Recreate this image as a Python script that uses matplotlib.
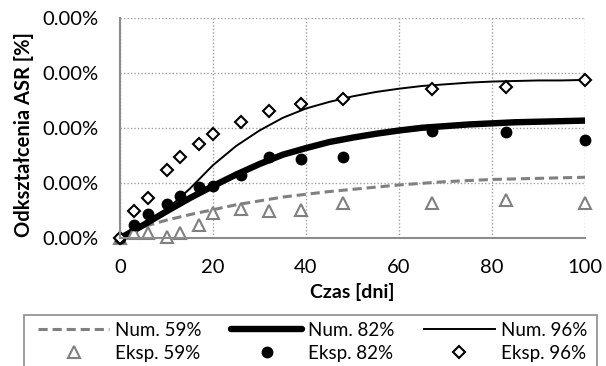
import numpy as np
import matplotlib
matplotlib.use("Agg")
import matplotlib.pyplot as plt
from matplotlib.patches import Rectangle
from matplotlib.ticker import PercentFormatter, MultipleLocator

plt.rcParams['font.family'] = ['Lato', 'DejaVu Sans']

# measurement days
days = [0, 3, 6, 10, 13, 17, 20, 26, 32, 39, 48, 67, 83, 100]
# experimental strains, in units of 0.001 %
eksp_59 = [0, 0.09, 0.10, 0.03, 0.09, 0.24, 0.46, 0.54, 0.49, 0.51, 0.64, 0.64, 0.70, 0.64]
eksp_82 = [0, 0.24, 0.45, 0.63, 0.77, 0.93, 0.96, 1.15, 1.47, 1.45, 1.48, 1.96, 1.93, 1.79]
eksp_96 = [0, 0.50, 0.74, 1.24, 1.48, 1.71, 1.89, 2.12, 2.31, 2.44, 2.53, 2.71, 2.75, 2.87]

# numerical curves, read every 5 days
num_days = [0, 5, 10, 15, 20, 25, 30, 35, 40, 45, 50, 55, 60, 65, 70, 75, 80, 85, 90, 95, 100]
num_59 = [0, 0.21, 0.33, 0.43, 0.52, 0.61, 0.68, 0.75, 0.80, 0.85, 0.89, 0.93, 0.97,
          1.00, 1.03, 1.05, 1.07, 1.08, 1.09, 1.10, 1.11]
num_82 = [0, 0.24, 0.49, 0.73, 0.95, 1.16, 1.35, 1.52, 1.64, 1.75, 1.83, 1.90, 1.96,
          2.01, 2.04, 2.07, 2.09, 2.11, 2.12, 2.13, 2.14]
num_96 = [0, 0.24, 0.52, 0.90, 1.33, 1.68, 1.96, 2.19, 2.36, 2.48, 2.58, 2.66, 2.72,
          2.77, 2.80, 2.83, 2.85, 2.86, 2.87, 2.87, 2.88]

UNIT = 1e-3  # values above are in 0.001 %

def pct(v):
    return np.array(v) * UNIT

FS = 14
W, H = 606, 366

fig = plt.figure(figsize=(W / 100, H / 100), dpi=100)
ax = fig.add_axes([120 / W, 1 - 238.3 / H, 465 / W, 220 / H])

gray = '#808080'
h59, = ax.plot(num_days, pct(num_59), color=gray, lw=2.2, dashes=(3, 1.6), label='Num. 59%')
h82, = ax.plot(num_days, pct(num_82), color='black', lw=4.6, solid_capstyle='round',
               label='Num. 82%')
h96, = ax.plot(num_days, pct(num_96), color='black', lw=1.4, label='Num. 96%')

e59, = ax.plot(days, pct(eksp_59), ls='none', marker='^', ms=8, mfc='white',
               mec=gray, mew=1.5, clip_on=False, label='Eksp. 59%')
e82, = ax.plot(days, pct(eksp_82), ls='none', marker='o', ms=7.5, mfc='black',
               mec='black', clip_on=False, label='Eksp. 82%')
e96, = ax.plot(days, pct(eksp_96), ls='none', marker='D', ms=6.5, mfc='white',
               mec='black', mew=1.5, clip_on=False, label='Eksp. 96%')

ax.set_xlim(0, 100)
ax.set_ylim(0, 4 * UNIT)
ax.xaxis.set_major_locator(MultipleLocator(20))
ax.yaxis.set_major_locator(MultipleLocator(UNIT))
ax.yaxis.set_major_formatter(PercentFormatter(xmax=100, decimals=2))

ax.grid(True, color='#a0a0a0', lw=1.0, ls=(0, (1, 1.5)))
ax.set_axisbelow(True)
for s in ['top', 'right']:
    ax.spines[s].set_visible(False)
for s in ['left', 'bottom']:
    ax.spines[s].set_color('#8c8c8c')
    ax.spines[s].set_linewidth(1.5)
ax.tick_params(length=0, labelsize=14.5)
ax.tick_params(axis='x', pad=15)
ax.tick_params(axis='y', pad=15.5)

ax.set_xlabel('Czas [dni]', fontsize=FS, fontweight='bold')
ax.set_ylabel('Odkształcenia ASR [%]', fontsize=14.5, fontweight='bold')
ax.xaxis.set_label_coords(0.5, -0.205)
ax.yaxis.set_label_coords(-0.185, 0.47)

# legend frame, runs off the bottom edge like in the original
fig.patches.append(Rectangle((24 / W, -0.1), (597 - 24) / W, 0.1 + 1 - 315 / H,
                             transform=fig.transFigure, fill=False,
                             edgecolor='#8c8c8c', lw=1.2))
leg = fig.legend([h59, e59, h82, e82, h96, e96],
                 ['Num. 59%', 'Eksp. 59%', 'Num. 82%', 'Eksp. 82%', 'Num. 96%', 'Eksp. 96%'],
                 ncol=3, loc='upper left', mode='expand',
                 bbox_to_anchor=(38 / W, -0.5, (587 - 38) / W, 0.5 + 1 - 322 / H),
                 borderaxespad=0, borderpad=0, fontsize=13.5, handlelength=3.8,
                 handletextpad=0.3, columnspacing=1.0, labelspacing=0.3, frameon=False)

fig.savefig('out.png', dpi=100)
